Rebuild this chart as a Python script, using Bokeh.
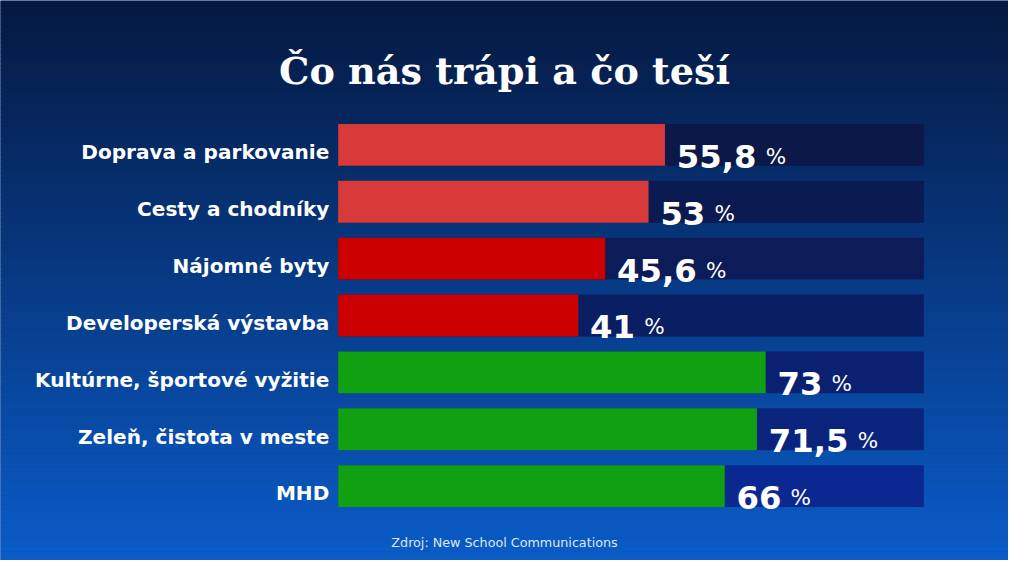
from bokeh.plotting import figure
from bokeh.models import Range1d, ColumnDataSource
from bokeh.core.properties import value
from bokeh.embed import file_html
from bokeh.resources import INLINE

# ---- data ----
categories = ["Doprava a parkovanie", "Cesty a chodníky", "Nájomné byty",
              "Developerská výstavba", "Kultúrne, športové vyžitie",
              "Zeleň, čistota v meste", "MHD"]
values = [55.8, 53, 45.6, 41, 73, 71.5, 66]
value_labels = ["55,8", "53", "45,6", "41", "73", "71,5", "66"]
title_text = "Čo nás trápi a čo teší"
source_text = "Zdroj: New School Communications"

# ---- styles ----
bar_colors = ["#d83a3a", "#d83a3a", "#cc0000", "#cc0000", "#11a011", "#11a011", "#11a011"]
track_colors = ["#0c1848", "#0b1a50", "#0b1c59", "#0a1e63", "#0a2070", "#0a247e", "#0b2890"]

# design is laid out in a 1024x576 reference frame, shown in a 1008x560 figure
W, H = 1008, 560
SX = W / 1024.0
SY = H / 576.0
FS = (SX + SY) / 2.0   # font scale

PX_PER_PCT = 5.95      # reference pixels per percent
X0_PX = 343            # reference pixel of 0 %
ROW_PX = 58.5          # reference pixels between rows
ROW0_PX = 148.5        # reference pixel of first row centre

def px2x(px):
    return (px - X0_PX) / PX_PER_PCT

def py2y(py):
    return (py - ROW0_PX) / ROW_PX

def fpx(v):
    return f"{v * FS:.2f}px"

p = figure(width=W, height=H, output_backend="svg", toolbar_location=None,
           x_range=Range1d(px2x(0), px2x(1024)),
           y_range=Range1d(py2y(576), py2y(0)),
           min_border=0, outline_line_color=None)
p.axis.visible = False
p.grid.visible = False
p.background_fill_color = "#073a8a"
p.border_fill_color = "#073a8a"

# background gradient strips
top = (5, 24, 64)
bot = (10, 92, 200)
n = 120
lefts, rights, tops_, bottoms, cols = [], [], [], [], []
for k in range(n):
    y0 = k * 576 / n
    y1 = (k + 1) * 576 / n + 0.6
    t = (k + 0.5) / n
    c = tuple(int(round(top[j] + (bot[j] - top[j]) * t)) for j in range(3))
    lefts.append(px2x(-2)); rights.append(px2x(1026))
    tops_.append(py2y(y0)); bottoms.append(py2y(y1))
    cols.append("#%02x%02x%02x" % c)
p.quad(left=lefts, right=rights, top=tops_, bottom=bottoms, fill_color=cols,
       line_color=None)

rows = list(range(len(categories)))
BAR_H = 43 / ROW_PX

src = ColumnDataSource(dict(
    y=rows, v=values, zero=[0] * len(rows), full=[100] * len(rows),
    bar_color=bar_colors, track_color=track_colors,
))
p.hbar(y="y", left="zero", right="full", height=BAR_H, fill_color="track_color",
       line_color=None, source=src)
p.hbar(y="y", left="zero", right="v", height=BAR_H, fill_color="bar_color",
       line_color=None, source=src)

# category labels
p.text(x=[px2x(334)] * len(rows), y=[r + 7.5 / ROW_PX for r in rows], text=categories,
       text_align="right", text_baseline="alphabetic", text_color="white",
       text_font=value("DejaVu Sans"), text_font_style="bold", text_font_size=fpx(20.5))

# value labels
NUM_SIZE = 33
def num_width(s):
    w = 0
    for ch in s:
        w += 0.380 if ch == "," else 0.696
    return w * NUM_SIZE   # in reference pixels

num_x = [v + 12 / PX_PER_PCT for v in values]
num_y = [r + 11.7 / ROW_PX for r in rows]
p.text(x=num_x, y=num_y, text=value_labels, text_align="left", text_baseline="alphabetic",
       text_color="white", text_font=value("DejaVu Sans"), text_font_style="bold",
       text_font_size=fpx(NUM_SIZE))
pct_x = [v + (12 + num_width(s) + 9) / PX_PER_PCT for v, s in zip(values, value_labels)]
p.text(x=pct_x, y=num_y, text=["%"] * len(rows), text_align="left",
       text_baseline="alphabetic", text_color="white", text_font=value("DejaVu Sans"),
       text_font_size=fpx(22))

# title
p.text(x=[px2x(512)], y=[py2y(72)], text=[title_text], text_align="center",
       text_baseline="alphabetic", text_color="white", text_font=value("DejaVu Serif"),
       text_font_style="bold", text_font_size=fpx(39))

# source
p.text(x=[px2x(512)], y=[py2y(557)], text=[source_text], text_align="center",
       text_baseline="alphabetic", text_color="#dfe7f5", text_font=value("DejaVu Sans"),
       text_font_size=fpx(13))

open("out.html", "w").write(file_html(p, INLINE))
